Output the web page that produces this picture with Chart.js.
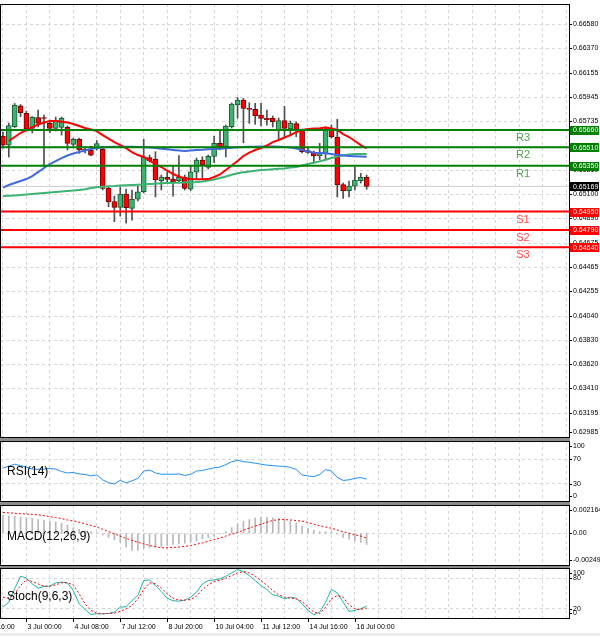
<!DOCTYPE html>
<html>
<head>
<meta charset="utf-8">
<script src="https://cdn.jsdelivr.net/npm/chart.js@4.4.0/dist/chart.umd.min.js"></script>
<style>
html, body { margin: 0; padding: 0; background: #fff; }
#wrap { position: relative; width: 600px; height: 636px; overflow: hidden; background: #fff; }
#wrap canvas { position: absolute; left: 0; }
.sep { position: absolute; left: 0; width: 570px; background: #8c8c8c; }
</style>
</head>
<body>
<div id="wrap">
  <canvas id="mainChart"></canvas>
  <canvas id="rsiChart"></canvas>
  <canvas id="macdChart"></canvas>
  <canvas id="stochChart"></canvas>
  <div class="sep" style="top:438px;height:3px"></div>
  <div class="sep" style="top:502px;height:3px"></div>
  <div class="sep" style="top:566px;height:2px"></div>
  <div style="position:absolute;left:0;top:633px;width:600px;height:3px;background:#ececec"></div>
</div>
<script>
// H4 candles, bar 0 = 2 Jul 08:00
const opens  = [0.65608,0.65529,0.65689,0.65871,0.65806,0.65675,0.65769,0.65764,0.65718,0.65675,
                0.65683,0.65683,0.65535,0.65579,0.65490,0.65486,0.65503,0.65491,0.65152,0.65036,
                0.64987,0.65103,0.64978,0.65057,0.65123,0.65421,0.65407,0.65219,0.65248,0.65233,
                0.65219,0.65251,0.65144,0.65294,0.65399,0.65335,0.65431,0.65544,0.65515,0.65689,
                0.65878,0.65921,0.65849,0.65840,0.65790,0.65762,0.65762,0.65660,0.65743,0.65669,
                0.65715,0.65660,0.65480,0.65462,0.65434,0.65457,0.65657,0.65599,0.65185,0.65133,
                0.65172,0.65219,0.65248];
const highs  = [0.65642,0.65721,0.65891,0.65882,0.65825,0.65776,0.65834,0.65790,0.65747,0.65773,
                0.65773,0.65695,0.65590,0.65590,0.65512,0.65521,0.65569,0.65512,0.65164,0.65085,
                0.65164,0.65146,0.65138,0.65172,0.65579,0.65442,0.65471,0.65268,0.65294,0.65347,
                0.65438,0.65268,0.65355,0.65416,0.65427,0.65442,0.65608,0.65654,0.65703,0.65895,
                0.65943,0.65936,0.65897,0.65892,0.65892,0.65834,0.65782,0.65764,0.65866,0.65738,
                0.65730,0.65669,0.65501,0.65477,0.65544,0.65689,0.65703,0.65753,0.65198,0.65216,
                0.65340,0.65283,0.65268];
const lows   = [0.65503,0.65425,0.65682,0.65777,0.65651,0.65634,0.65686,0.65346,0.65636,0.65651,
                0.65616,0.65486,0.65521,0.65457,0.65460,0.65434,0.65486,0.65138,0.64992,0.64862,
                0.64911,0.64850,0.64876,0.65042,0.65111,0.65381,0.65077,0.65138,0.65207,0.65085,
                0.65207,0.65138,0.65133,0.65233,0.65231,0.65320,0.65375,0.65486,0.65425,0.65677,
                0.65764,0.65549,0.65718,0.65710,0.65695,0.65703,0.65686,0.65582,0.65602,0.65608,
                0.65602,0.65460,0.65457,0.65384,0.65399,0.65399,0.65590,0.65077,0.65065,0.65077,
                0.65138,0.65198,0.65144];
const closes = [0.65529,0.65699,0.65878,0.65812,0.65667,0.65770,0.65718,0.65760,0.65675,0.65747,
                0.65762,0.65544,0.65579,0.65486,0.65486,0.65442,0.65542,0.65151,0.65036,0.64987,
                0.65103,0.64985,0.65057,0.65123,0.65425,0.65394,0.65225,0.65251,0.65229,0.65210,
                0.65248,0.65152,0.65297,0.65399,0.65355,0.65431,0.65544,0.65516,0.65695,0.65886,
                0.65921,0.65849,0.65840,0.65782,0.65762,0.65751,0.65732,0.65743,0.65675,0.65721,
                0.65660,0.65471,0.65466,0.65434,0.65462,0.65660,0.65599,0.65181,0.65133,0.65172,
                0.65225,0.65248,0.65169];

// moving averages (red fast, blue middle, green slow); fast one starts at bar 1
const maFast = [null,0.65564,0.65599,0.65634,0.65660,0.65686,0.65708,0.65725,0.65738,0.65738,
                0.65732,0.65725,0.65712,0.65695,0.65677,0.65664,0.65651,0.65616,0.65586,0.65555,
                0.65529,0.65503,0.65468,0.65442,0.65425,0.65394,0.65364,0.65338,0.65307,0.65277,
                0.65255,0.65239,0.65233,0.65231,0.65231,0.65233,0.65251,0.65273,0.65312,0.65351,
                0.65390,0.65434,0.65464,0.65486,0.65503,0.65525,0.65555,0.65573,0.65595,0.65616,
                0.65642,0.65660,0.65669,0.65673,0.65675,0.65682,0.65673,0.65660,0.65625,0.65599,
                0.65564,0.65529,0.65501];
const maMid  = [0.65159,0.65181,0.65199,0.65216,0.65233,0.65259,0.65294,0.65329,0.65364,0.65390,
                0.65416,0.65438,0.65455,0.65468,0.65481,0.65495,0.65503,0.65508,0.65512,0.65515,
                0.65515,0.65515,0.65514,0.65512,0.65512,0.65508,0.65503,0.65497,0.65492,0.65486,
                0.65481,0.65477,0.65481,0.65486,0.65488,0.65492,0.65495,0.65497,0.65501,0.65505,
                0.65509,0.65512,0.65514,0.65515,0.65516,0.65516,0.65516,0.65515,0.65512,0.65508,
                0.65499,0.65486,0.65473,0.65462,0.65460,0.65457,0.65451,0.65442,0.65438,0.65434,
                0.65431,0.65429,0.65427];
const maSlow = [0.65085,0.65088,0.65091,0.65094,0.65099,0.65103,0.65107,0.65111,0.65116,0.65120,
                0.65125,0.65129,0.65133,0.65138,0.65144,0.65155,0.65161,0.65166,0.65170,0.65172,
                0.65177,0.65179,0.65181,0.65184,0.65187,0.65190,0.65193,0.65196,0.65199,0.65200,
                0.65201,0.65203,0.65205,0.65207,0.65212,0.65220,0.65229,0.65242,0.65255,0.65270,
                0.65283,0.65292,0.65299,0.65306,0.65312,0.65315,0.65319,0.65322,0.65326,0.65333,
                0.65339,0.65351,0.65364,0.65375,0.65387,0.65401,0.65416,0.65429,0.65440,0.65447,
                0.65451,0.65451,0.65451];

const rsi = [55.6,58.8,62.0,59.6,57.2,54.0,53.5,54.0,54.8,54.0,
             50.0,47.6,48.4,46.0,45.2,42.8,44.4,36.4,31.6,29.5,
             35.6,31.1,34.8,38.8,50.8,52.4,47.6,45.5,45.5,45.5,
             46.0,43.6,45.2,50.8,51.6,54.0,56.1,57.2,61.2,66.0,
             68.4,66.0,65.2,63.6,62.0,60.4,59.6,58.8,58.3,56.7,
             53.2,44.4,42.8,41.7,45.2,53.2,50.8,40.4,35.3,36.4,
             38.8,40.1,37.5];

const macdMain = [0.00137,0.00132,0.00130,0.00125,0.00117,0.00113,0.00105,0.00100,0.00093,0.00088,
                  0.00078,0.00063,0.00043,0.00031,0.00019,0.00011,0.00006,-0.00013,-0.00031,-0.00050,
                  -0.00068,-0.00105,-0.00130,-0.00130,-0.00117,-0.00110,-0.00105,-0.00100,-0.00093,-0.00085,
                  -0.00080,-0.00075,-0.00068,-0.00056,-0.00043,-0.00031,-0.00019,-0.00006,0.00013,0.00043,
                  0.00073,0.00093,0.00105,0.00117,0.00122,0.00122,0.00117,0.00113,0.00105,0.00093,
                  0.00078,0.00056,0.00039,0.00024,0.00013,0.00013,0.00009,-0.00006,-0.00031,-0.00043,
                  -0.00056,-0.00068,-0.00085];
const macdSignal = [0.00159,0.00157,0.00153,0.00150,0.00148,0.00144,0.00142,0.00135,0.00127,0.00120,
                    0.00113,0.00102,0.00095,0.00085,0.00073,0.00061,0.00048,0.00031,0.00013,-0.00004,
                    -0.00021,-0.00039,-0.00053,-0.00068,-0.00080,-0.00093,-0.00102,-0.00110,-0.00110,-0.00107,
                    -0.00105,-0.00100,-0.00093,-0.00083,-0.00073,-0.00061,-0.00048,-0.00036,-0.00021,-0.00006,
                    0.00006,0.00024,0.00041,0.00056,0.00070,0.00085,0.00098,0.00105,0.00105,0.00102,
                    0.00098,0.00093,0.00083,0.00070,0.00058,0.00048,0.00039,0.00026,0.00013,0.00001,
                    -0.00011,-0.00021,-0.00036];

const stochMain = [23.3,33.0,59.1,83.9,80.0,68.9,60.4,63.7,64.4,70.9,
                   72.2,70.9,55.9,29.8,18.7,8.9,10.2,10.2,10.9,13.5,
                   23.3,23.9,36.3,46.1,75.4,76.7,65.7,53.9,40.9,35.7,
                   35.0,37.0,42.8,52.6,68.9,75.4,76.7,78.7,83.9,90.4,
                   97.0,93.0,85.2,75.4,65.7,57.8,47.4,44.8,39.6,42.8,
                   40.9,29.8,16.8,8.3,13.5,33.0,57.8,51.3,33.0,14.8,
                   16.8,20.0,25.2];
const stochSignal = [42.8,40.9,49.4,65.7,77.4,73.5,68.9,64.4,64.4,67.0,
                     70.9,70.9,67.0,49.4,29.8,16.8,11.5,10.2,10.9,11.5,
                     14.8,20.0,26.5,39.6,57.8,70.9,68.9,60.4,49.4,40.9,
                     37.0,37.0,38.3,44.8,57.8,67.0,73.5,76.1,80.0,85.2,
                     90.4,93.0,90.4,83.9,75.4,65.7,55.9,47.4,42.8,40.9,
                     39.6,34.4,23.3,13.5,10.2,23.3,39.6,46.1,42.8,27.8,
                     20.0,18.7,21.3];

// axes and levels
const priceTicks = [0.66580,0.66370,0.66155,0.65945,0.65735,0.65520,0.65310,0.65100,0.64890,
                    0.64675,0.64465,0.64255,0.64040,0.63830,0.63620,0.63410,0.63195,0.62985];
const levelNames  = ['R3','R2','R1','S1','S2','S3'];
const levelValues = [0.65660,0.65510,0.65350,0.64950,0.64790,0.64640];
const lastPrice = 0.65169;
const rsiLabels = ['100','70','30','0'];
const rsiLabelValues = [100,70,30,0];
const macdLabels = ['0.002164','0.00','-0.002493'];
const macdLabelValues = [0.002164,0,-0.002493];
const stochLabels = ['100','80','20','0'];
const stochLabelValues = [100,80,20,0];
const timeLabels = ['1 Jul 16:00','3 Jul 00:00','4 Jul 08:00','7 Jul 12:00','8 Jul 20:00',
                    '10 Jul 04:00','11 Jul 12:00','14 Jul 16:00','16 Jul 00:00'];
const timeLabelBars = [-4,4,12,20,28,36,44,52,60];
const gridBars = [0,4,8,12,16,20,24,28,32,36,40,44,48,52,56,60,64,68,72,76,80,84,88,92,96];

const FONT = '"Liberation Sans", Arial, sans-serif';
const GRID = '#d6d6d6';
const PAD = 8;

function xy(arr) { return arr.map((v, i) => ({ x: i, y: v })); }
function flat(v) { return [{ x: -0.5, y: v }, { x: 96.5, y: v }]; }

function scalesFor(yMin, yMax, yGrid) {
  return {
    x: {
      type: 'linear', min: -0.5, max: 96.5, offset: false,
      ticks: { display: false },
      grid: { color: GRID, drawTicks: false, offset: false },
      border: { display: false, dash: [3, 3] },
      afterBuildTicks: s => { s.ticks = gridBars.map(v => ({ value: v })); },
      afterFit: s => { s.height = 0; }
    },
    y: {
      position: 'right', min: yMin, max: yMax,
      ticks: { display: false },
      grid: { color: GRID, drawTicks: false },
      border: { display: false, dash: [3, 3] },
      afterBuildTicks: s => { s.ticks = yGrid.map(v => ({ value: v })); },
      afterFit: s => { s.width = 31; }
    }
  };
}

function framePlugin(key, labels, values, extra) {
  return {
    id: 'frame' + key,
    afterDraw(chart) {
      const { ctx, chartArea: a } = chart;
      const ys = chart.scales.y;
      ctx.save();
      ctx.strokeStyle = '#000';
      ctx.lineWidth = 1;
      ctx.strokeRect(a.left + 0.5, a.top + 0.5, a.right - a.left, a.bottom - a.top - 1);
      ctx.font = '7px ' + FONT;
      ctx.fillStyle = '#000';
      ctx.textAlign = 'left';
      ctx.textBaseline = 'middle';
      labels.forEach((t, k) => {
        let y = ys.getPixelForValue(values[k]);
        y = Math.min(Math.max(y, a.top + 5), a.bottom - 6);
        ctx.beginPath();
        ctx.moveTo(a.right, Math.round(y) + 0.5);
        ctx.lineTo(a.right + 3, Math.round(y) + 0.5);
        ctx.stroke();
        ctx.fillText(t, a.right + 4, y);
      });
      if (extra) extra(chart, ctx, a);
      ctx.restore();
    }
  };
}

function titleText(text, offset) {
  return (chart, ctx, a) => {
    ctx.font = '12px ' + FONT;
    ctx.fillStyle = '#000';
    ctx.textAlign = 'left';
    ctx.textBaseline = 'middle';
    ctx.fillText(text, 7, a.top + offset);
  };
}

function baseOptions(scales) {
  return {
    responsive: false, animation: false, events: [],
    layout: { padding: { top: PAD, bottom: PAD, left: 0, right: 0 }, autoPadding: false },
    plugins: { legend: { display: false }, tooltip: { enabled: false } },
    scales: scales
  };
}

function place(id, top, h, padBottom) {
  const c = document.getElementById(id);
  c.width = 600;
  c.height = h + PAD + padBottom;
  c.style.top = (top - PAD) + 'px';
  return c;
}

// ---------- main price panel ----------
const levelColors = ['#008000','#008000','#008000','#ff0000','#ff0000','#ff0000'];
const mainSets = [];
levelValues.forEach((v, k) => {
  mainSets.push({ type: 'line', data: flat(v), borderColor: levelColors[k], borderWidth: 2,
                  pointRadius: 0, order: 0 });
});
mainSets.push({ type: 'line', data: xy(maFast), borderColor: '#ff0000', borderWidth: 2, pointRadius: 0, order: 1 });
mainSets.push({ type: 'line', data: xy(maMid), borderColor: '#4169e1', borderWidth: 2, pointRadius: 0, order: 1 });
mainSets.push({ type: 'line', data: xy(maSlow), borderColor: '#3cb371', borderWidth: 2, pointRadius: 0, order: 1 });
mainSets.push({
  type: 'bar', order: 2, grouped: false, barThickness: 5, minBarLength: 1, borderSkipped: false,
  data: opens.map((o, i) => ({ x: i, y: [o, closes[i]] })),
  backgroundColor: c => closes[c.dataIndex] >= opens[c.dataIndex] ? '#3cb371' : '#ff0000',
  borderColor: c => closes[c.dataIndex] >= opens[c.dataIndex] ? '#1c5c34' : '#700000',
  borderWidth: 1
});
mainSets.push({
  type: 'bar', order: 3, grouped: false, barThickness: 1, borderSkipped: false,
  data: lows.map((l, i) => ({ x: i, y: [l, highs[i]] })),
  backgroundColor: '#505050'
});
mainSets.push({ type: 'line', data: flat(lastPrice), borderColor: '#cfcfcf', borderWidth: 1, pointRadius: 0, order: 4 });

function mainExtra(chart, ctx, a) {
  const ys = chart.scales.y;
  ctx.font = '11px ' + FONT;
  ctx.textAlign = 'center';
  levelValues.forEach((v, k) => {
    const y = ys.getPixelForValue(v);
    ctx.fillStyle = k < 3 ? '#4ea34e' : '#ff4a4a';
    ctx.fillText(levelNames[k], 523, y + 8);
  });
  ctx.font = '7px ' + FONT;
  ctx.textAlign = 'left';
  const tags = levelValues.map((v, k) => [v, levelColors[k]]).concat([[lastPrice, '#000']]);
  tags.forEach(([v, col]) => {
    const y = ys.getPixelForValue(v);
    ctx.fillStyle = col;
    ctx.fillRect(a.right + 1, Math.round(y) - 4, 29, 9);
    ctx.fillStyle = '#fff';
    ctx.fillText(v.toFixed(5), a.right + 4, y + 0.5);
  });
}

place('mainChart', 4, 434, PAD);
new Chart(document.getElementById('mainChart'), {
  type: 'bar',
  data: { datasets: mainSets },
  options: baseOptions(scalesFor(0.62979, 0.66757, priceTicks)),
  plugins: [framePlugin('main', priceTicks.map(v => v.toFixed(5)), priceTicks, mainExtra)]
});

// ---------- RSI ----------
place('rsiChart', 441, 61, PAD);
new Chart(document.getElementById('rsiChart'), {
  type: 'line',
  data: { datasets: [{ data: xy(rsi), borderColor: '#1e90ff', borderWidth: 1, pointRadius: 0 }] },
  options: baseOptions(scalesFor(0, 100, [30, 70])),
  plugins: [framePlugin('rsi', rsiLabels, rsiLabelValues, titleText('RSI(14)', 31))]
});

// ---------- MACD ----------
place('macdChart', 505, 61, PAD);
new Chart(document.getElementById('macdChart'), {
  type: 'bar',
  data: { datasets: [
    { type: 'line', data: xy(macdSignal), borderColor: '#ff0000', borderWidth: 1, borderDash: [2, 2],
      pointRadius: 0, order: 0 },
    { type: 'bar', data: xy(macdMain), backgroundColor: '#b8b8b8', barThickness: 1, grouped: false, order: 1 }
  ] },
  options: baseOptions(scalesFor(-0.002493, 0.002164, [0])),
  plugins: [framePlugin('macd', macdLabels, macdLabelValues, titleText('MACD(12,26,9)', 32))]
});

// ---------- Stochastic ----------
function stochExtra(chart, ctx, a) {
  titleText('Stoch(9,6,3)', 29)(chart, ctx, a);
  const xs = chart.scales.x;
  ctx.font = '7px ' + FONT;
  ctx.fillStyle = '#000';
  ctx.strokeStyle = '#000';
  ctx.textAlign = 'left';
  ctx.textBaseline = 'middle';
  timeLabelBars.forEach((b, k) => {
    const x = Math.round(xs.getPixelForValue(b)) + 0.5;
    ctx.beginPath();
    ctx.moveTo(x, a.bottom);
    ctx.lineTo(x, a.bottom + 3);
    ctx.stroke();
    ctx.fillText(timeLabels[k], x + 1, a.bottom + 8);
  });
}
place('stochChart', 568, 51, 18);
const stochOpts = baseOptions(scalesFor(0, 100, [20, 80]));
stochOpts.layout.padding.bottom = 18;
new Chart(document.getElementById('stochChart'), {
  type: 'line',
  data: { datasets: [
    { data: xy(stochSignal), borderColor: '#ff0000', borderWidth: 1, borderDash: [2, 2], pointRadius: 0 },
    { data: xy(stochMain), borderColor: '#20b2aa', borderWidth: 1, pointRadius: 0 }
  ] },
  options: stochOpts,
  plugins: [framePlugin('stoch', stochLabels, stochLabelValues, stochExtra)]
});
</script>
</body>
</html>
